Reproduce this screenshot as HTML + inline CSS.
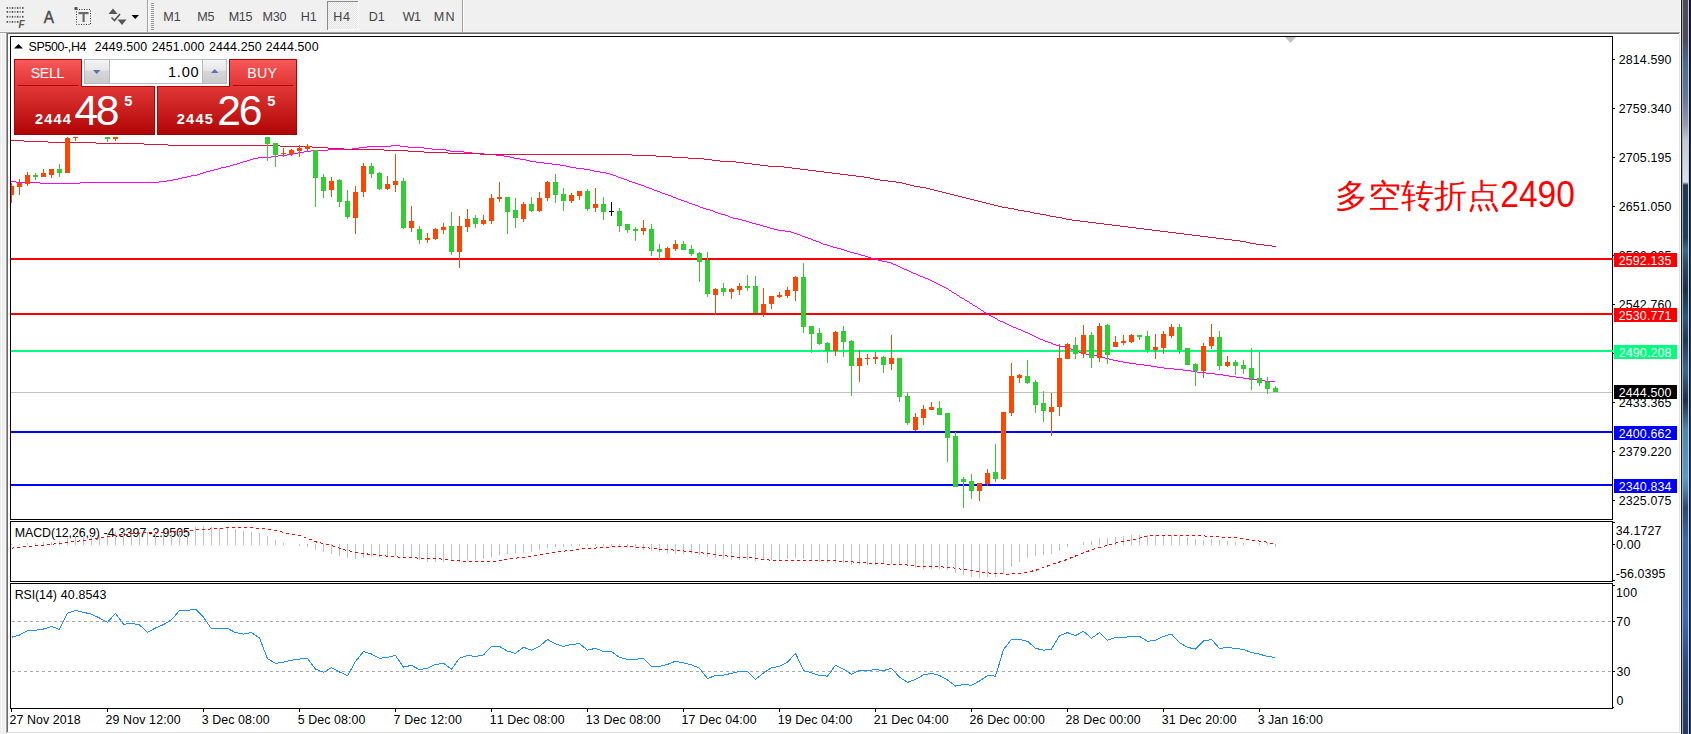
<!DOCTYPE html>
<html><head><meta charset="utf-8"><title>SP500 H4</title>
<style>
html,body{margin:0;padding:0;background:#F0F0F0;}
body{width:1691px;height:734px;overflow:hidden;position:relative;}
svg{position:absolute;left:0;top:0;display:block;}
svg text{font-family:"Liberation Sans", sans-serif;font-kerning:none;}
</style></head>
<body>
<svg width="1691" height="734" viewBox="0 0 1691 734">
<rect x="0" y="0" width="1691" height="734" fill="#F0F0F0"/>
<rect x="0" y="33" width="1" height="701" fill="#EBEBEB"/>
<rect x="1" y="33" width="1" height="701" fill="#F8F8F8"/>
<rect x="5" y="33" width="1" height="701" fill="#F5F5F5"/>
<rect x="0" y="32" width="1681" height="1" fill="#A0A0A0"/>
<rect x="0" y="31" width="1681" height="1" fill="#F6F6F6"/>
<rect x="0" y="33" width="6" height="1" fill="#FCFCFC"/>
<rect x="6" y="32" width="1" height="702" fill="#A0A0A0"/>
<rect x="7" y="33" width="1673" height="1" fill="#696969"/>
<rect x="7" y="33" width="1" height="700" fill="#696969"/>
<rect x="8" y="34" width="1671" height="698" fill="#FFFFFF"/>
<rect x="7" y="732" width="1673" height="1" fill="#E3E3E3"/>
<rect x="1679" y="33" width="1" height="700" fill="#E3E3E3"/>
<rect x="6" y="733" width="1675" height="1" fill="#FFFFFF"/>
<rect x="1680" y="0" width="1" height="734" fill="#FFFFFF"/>
<defs>
<linearGradient id="frameg" x1="0" y1="0" x2="0" y2="1">
<stop offset="0.0000" stop-color="#4e4a5a"/>
<stop offset="0.0545" stop-color="#4e4a5c"/>
<stop offset="0.0845" stop-color="#4a6a90"/>
<stop offset="0.1362" stop-color="#6a7a98"/>
<stop offset="0.1703" stop-color="#9a9aaa"/>
<stop offset="0.1907" stop-color="#c0c8d4"/>
<stop offset="0.2480" stop-color="#dce4ec"/>
<stop offset="0.2520" stop-color="#203a4c"/>
<stop offset="0.3243" stop-color="#22404f"/>
<stop offset="0.3406" stop-color="#3a6a88"/>
<stop offset="0.3610" stop-color="#2a4a60"/>
<stop offset="0.3951" stop-color="#1e3040"/>
<stop offset="0.4332" stop-color="#2a5a7a"/>
<stop offset="0.4632" stop-color="#1e3a50"/>
<stop offset="0.5041" stop-color="#3a6a8a"/>
<stop offset="0.5450" stop-color="#1e3040"/>
<stop offset="0.5858" stop-color="#4a8ab0"/>
<stop offset="0.6512" stop-color="#5a9ac8"/>
<stop offset="0.6676" stop-color="#4a80b0"/>
<stop offset="0.6921" stop-color="#2a4a70"/>
<stop offset="0.7357" stop-color="#3a6aa8"/>
<stop offset="0.8447" stop-color="#3a6ab0"/>
<stop offset="0.9060" stop-color="#2a4a80"/>
<stop offset="1.0000" stop-color="#2a3a60"/>
</linearGradient>
<linearGradient id="edgeg" x1="0" y1="0" x2="0" y2="1">
<stop offset="0" stop-color="#1a1830"/><stop offset="0.15" stop-color="#1a2a48"/><stop offset="0.3" stop-color="#174468"/><stop offset="1" stop-color="#174a70"/>
</linearGradient>
<linearGradient id="sellTab" x1="0" y1="0" x2="0" y2="1">
<stop offset="0" stop-color="#F85A5A"/><stop offset="1" stop-color="#E03434"/>
</linearGradient>
<linearGradient id="sellLow" x1="0" y1="0" x2="0" y2="1">
<stop offset="0" stop-color="#E23838"/><stop offset="1" stop-color="#B00404"/>
</linearGradient>
<linearGradient id="btnG" x1="0" y1="0" x2="0" y2="1">
<stop offset="0" stop-color="#F4F4F4"/><stop offset="0.45" stop-color="#E6E6E6"/><stop offset="0.5" stop-color="#D6D6D6"/><stop offset="1" stop-color="#CBCBCB"/>
</linearGradient>
<pattern id="dith" width="2" height="2" patternUnits="userSpaceOnUse">
<rect width="2" height="2" fill="#F7F7F7"/><rect width="1" height="1" fill="#E4E4E4"/><rect x="1" y="1" width="1" height="1" fill="#E4E4E4"/>
</pattern>
<clipPath id="mainclip"><rect x="11" y="37" width="1601" height="482"/></clipPath>
<clipPath id="macdclip"><rect x="11" y="522" width="1601" height="59"/></clipPath>
<clipPath id="rsiclip"><rect x="11" y="584" width="1601" height="124"/></clipPath>
</defs>
<rect x="1681" y="0" width="10" height="734" fill="url(#frameg)"/>
<rect x="1681" y="0" width="1" height="734" fill="#141824"/>
<rect x="1682" y="0" width="1" height="734" fill="#A8AEBC"/>
<rect x="1688" y="0" width="1" height="734" fill="#C8CCD8"/>
<rect x="1689" y="0" width="1" height="734" fill="#0A0E1A"/>
<rect x="1690" y="0" width="1" height="734" fill="url(#edgeg)"/>
<rect x="6.6" y="7.1" width="1.5" height="1.8" fill="#4e4e4e"/>
<rect x="9.17" y="7.1" width="1.5" height="1.8" fill="#8e8e8e"/>
<rect x="11.74" y="7.1" width="1.5" height="1.8" fill="#4e4e4e"/>
<rect x="14.31" y="7.1" width="1.5" height="1.8" fill="#8e8e8e"/>
<rect x="16.88" y="7.1" width="1.5" height="1.8" fill="#4e4e4e"/>
<rect x="19.45" y="7.1" width="1.5" height="1.8" fill="#8e8e8e"/>
<rect x="22.02" y="7.1" width="1.5" height="1.8" fill="#4e4e4e"/>
<rect x="6.6" y="11" width="1.5" height="1.8" fill="#4e4e4e"/>
<rect x="9.17" y="11" width="1.5" height="1.8" fill="#8e8e8e"/>
<rect x="11.74" y="11" width="1.5" height="1.8" fill="#4e4e4e"/>
<rect x="14.31" y="11" width="1.5" height="1.8" fill="#8e8e8e"/>
<rect x="16.88" y="11" width="1.5" height="1.8" fill="#4e4e4e"/>
<rect x="19.45" y="11" width="1.5" height="1.8" fill="#8e8e8e"/>
<rect x="22.02" y="11" width="1.5" height="1.8" fill="#4e4e4e"/>
<rect x="6.6" y="15.9" width="1.5" height="1.8" fill="#4e4e4e"/>
<rect x="9.17" y="15.9" width="1.5" height="1.8" fill="#8e8e8e"/>
<rect x="11.74" y="15.9" width="1.5" height="1.8" fill="#4e4e4e"/>
<rect x="14.31" y="15.9" width="1.5" height="1.8" fill="#8e8e8e"/>
<rect x="16.88" y="15.9" width="1.5" height="1.8" fill="#4e4e4e"/>
<rect x="19.45" y="15.9" width="1.5" height="1.8" fill="#8e8e8e"/>
<rect x="22.02" y="15.9" width="1.5" height="1.8" fill="#4e4e4e"/>
<rect x="6.6" y="21" width="1.5" height="1.8" fill="#4e4e4e"/>
<rect x="9.17" y="21" width="1.5" height="1.8" fill="#8e8e8e"/>
<rect x="11.74" y="21" width="1.5" height="1.8" fill="#4e4e4e"/>
<rect x="14.31" y="21" width="1.5" height="1.8" fill="#8e8e8e"/>
<rect x="16.88" y="21" width="1.5" height="1.8" fill="#4e4e4e"/>
<text x="18.4" y="28" font-size="10" font-weight="bold" font-style="italic" fill="#555" font-family='"Liberation Sans",sans-serif'>F</text>
<text x="0" y="0" font-size="16.5" fill="#4a4a4a" stroke="#4a4a4a" stroke-width="0.45" transform="translate(43.7,22.8) scale(0.93,1)">A</text>
<rect x="76.5" y="9.5" width="14" height="15" fill="none" stroke="#333" stroke-width="1" stroke-dasharray="1,1.5"/>
<rect x="74.5" y="7" width="3" height="3" fill="#555"/>
<rect x="78.5" y="12" width="10" height="2.2" fill="#6a6a6a"/>
<rect x="82.5" y="12" width="2.2" height="10" fill="#6a6a6a"/>
<path d="M108.5,14 L113,8.5 L117.5,14 Z" fill="#555"/>
<path d="M117.5,19.5 L126.5,19.5 L122,25 Z" fill="#555"/>
<path d="M111.5,17.5 L114.5,20.5 L120,14" fill="none" stroke="#555" stroke-width="1.6"/>
<path d="M131.5,15 L139,15 L135.25,19 Z" fill="#000"/>
<rect x="147" y="0" width="1" height="32" fill="#A0A0A0"/>
<rect x="148" y="0" width="1" height="32" fill="#FFFFFF"/>
<rect x="151" y="3" width="3" height="1" fill="#9a9a9a"/>
<rect x="151" y="5" width="3" height="1" fill="#9a9a9a"/>
<rect x="151" y="7" width="3" height="1" fill="#9a9a9a"/>
<rect x="151" y="9" width="3" height="1" fill="#9a9a9a"/>
<rect x="151" y="11" width="3" height="1" fill="#9a9a9a"/>
<rect x="151" y="13" width="3" height="1" fill="#9a9a9a"/>
<rect x="151" y="15" width="3" height="1" fill="#9a9a9a"/>
<rect x="151" y="17" width="3" height="1" fill="#9a9a9a"/>
<rect x="151" y="19" width="3" height="1" fill="#9a9a9a"/>
<rect x="151" y="21" width="3" height="1" fill="#9a9a9a"/>
<rect x="151" y="23" width="3" height="1" fill="#9a9a9a"/>
<rect x="151" y="25" width="3" height="1" fill="#9a9a9a"/>
<rect x="151" y="27" width="3" height="1" fill="#9a9a9a"/>
<rect x="151" y="29" width="3" height="1" fill="#9a9a9a"/>
<rect x="327" y="1" width="32" height="29" fill="url(#dith)"/>
<rect x="327" y="1" width="31" height="1" fill="#8A8A8A"/>
<rect x="327" y="1" width="1" height="29" fill="#8A8A8A"/>
<rect x="328" y="29" width="31" height="1" fill="#FFFFFF"/>
<rect x="358" y="1" width="1" height="29" fill="#FFFFFF"/>
<text x="163.17" y="21.4" font-size="12.6" fill="#444" letter-spacing="0.045">M1</text>
<text x="197.17" y="21.4" font-size="12.6" fill="#444" letter-spacing="-0.041">M5</text>
<text x="228.67" y="21.4" font-size="12.6" fill="#444" letter-spacing="-0.324">M15</text>
<text x="262.47" y="21.4" font-size="12.6" fill="#444" letter-spacing="-0.243">M30</text>
<text x="300.67" y="21.4" font-size="12.6" fill="#444" letter-spacing="-0.058">H1</text>
<text x="333.17" y="21.4" font-size="12.6" fill="#444" letter-spacing="0.696">H4</text>
<text x="368.87" y="21.4" font-size="12.6" fill="#444" letter-spacing="-0.158">D1</text>
<text x="402.84" y="21.4" font-size="12.6" fill="#444" letter-spacing="-0.629">W1</text>
<text x="433.77" y="21.4" font-size="12.6" fill="#444" letter-spacing="1.166">MN</text>
<rect x="462" y="0" width="1" height="32" fill="#A0A0A0"/>
<rect x="463" y="0" width="1" height="32" fill="#FFFFFF"/>
<rect x="10" y="36" width="1603" height="1" fill="#000"/>
<rect x="10" y="519" width="1603" height="1" fill="#000"/>
<rect x="10" y="36" width="1" height="484" fill="#000"/>
<rect x="1612" y="36" width="1" height="484" fill="#000"/>
<rect x="10" y="521" width="1603" height="1" fill="#000"/>
<rect x="10" y="581" width="1603" height="1" fill="#000"/>
<rect x="10" y="521" width="1" height="61" fill="#000"/>
<rect x="1612" y="521" width="1" height="61" fill="#000"/>
<rect x="10" y="583" width="1603" height="1" fill="#000"/>
<rect x="10" y="708" width="1603" height="1" fill="#000"/>
<rect x="10" y="583" width="1" height="126" fill="#000"/>
<rect x="1612" y="583" width="1" height="126" fill="#000"/>
<g clip-path="url(#mainclip)" shape-rendering="crispEdges">
<rect x="11" y="392" width="1601" height="1" fill="#C0C0C0"/>
<rect x="11" y="258" width="1602" height="2" fill="#FF0000"/>
<rect x="11" y="313" width="1602" height="2" fill="#FF0000"/>
<rect x="11" y="350" width="1602" height="2" fill="#00FF7F"/>
<rect x="11" y="431" width="1602" height="2" fill="#0000FF"/>
<rect x="11" y="484" width="1602" height="2" fill="#0000FF"/>
<rect x="11" y="181" width="5" height="1" fill="#FF00FF"/>
<rect x="16" y="182" width="24" height="1" fill="#FF00FF"/>
<rect x="40" y="183" width="40" height="1" fill="#FF00FF"/>
<rect x="80" y="182" width="79" height="1" fill="#FF00FF"/>
<rect x="159" y="181" width="8" height="1" fill="#FF00FF"/>
<rect x="167" y="180" width="6" height="1" fill="#FF00FF"/>
<rect x="173" y="179" width="5" height="1" fill="#FF00FF"/>
<rect x="178" y="178" width="4" height="1" fill="#FF00FF"/>
<rect x="182" y="177" width="5" height="1" fill="#FF00FF"/>
<rect x="187" y="176" width="4" height="1" fill="#FF00FF"/>
<rect x="191" y="175" width="6" height="1" fill="#FF00FF"/>
<rect x="197" y="174" width="3" height="1" fill="#FF00FF"/>
<rect x="200" y="173" width="3" height="1" fill="#FF00FF"/>
<rect x="203" y="172" width="3" height="1" fill="#FF00FF"/>
<rect x="206" y="171" width="4" height="1" fill="#FF00FF"/>
<rect x="210" y="170" width="4" height="1" fill="#FF00FF"/>
<rect x="214" y="169" width="4" height="1" fill="#FF00FF"/>
<rect x="218" y="168" width="3" height="1" fill="#FF00FF"/>
<rect x="221" y="167" width="5" height="1" fill="#FF00FF"/>
<rect x="226" y="166" width="4" height="1" fill="#FF00FF"/>
<rect x="230" y="165" width="3" height="1" fill="#FF00FF"/>
<rect x="233" y="164" width="4" height="1" fill="#FF00FF"/>
<rect x="237" y="163" width="3" height="1" fill="#FF00FF"/>
<rect x="240" y="162" width="3" height="1" fill="#FF00FF"/>
<rect x="243" y="161" width="4" height="1" fill="#FF00FF"/>
<rect x="247" y="160" width="3" height="1" fill="#FF00FF"/>
<rect x="250" y="159" width="3" height="1" fill="#FF00FF"/>
<rect x="253" y="158" width="5" height="1" fill="#FF00FF"/>
<rect x="258" y="157" width="13" height="1" fill="#FF00FF"/>
<rect x="271" y="156" width="7" height="1" fill="#FF00FF"/>
<rect x="278" y="155" width="9" height="1" fill="#FF00FF"/>
<rect x="287" y="154" width="6" height="1" fill="#FF00FF"/>
<rect x="293" y="153" width="5" height="1" fill="#FF00FF"/>
<rect x="298" y="152" width="6" height="1" fill="#FF00FF"/>
<rect x="304" y="151" width="7" height="1" fill="#FF00FF"/>
<rect x="311" y="150" width="17" height="1" fill="#FF00FF"/>
<rect x="328" y="149" width="24" height="1" fill="#FF00FF"/>
<rect x="352" y="148" width="7" height="1" fill="#FF00FF"/>
<rect x="359" y="147" width="8" height="1" fill="#FF00FF"/>
<rect x="367" y="146" width="24" height="1" fill="#FF00FF"/>
<rect x="391" y="145" width="9" height="1" fill="#FF00FF"/>
<rect x="400" y="146" width="8" height="1" fill="#FF00FF"/>
<rect x="408" y="147" width="16" height="1" fill="#FF00FF"/>
<rect x="424" y="148" width="8" height="1" fill="#FF00FF"/>
<rect x="432" y="149" width="14" height="1" fill="#FF00FF"/>
<rect x="446" y="150" width="4" height="1" fill="#FF00FF"/>
<rect x="450" y="151" width="14" height="1" fill="#FF00FF"/>
<rect x="464" y="152" width="8" height="1" fill="#FF00FF"/>
<rect x="472" y="153" width="12" height="1" fill="#FF00FF"/>
<rect x="484" y="154" width="12" height="1" fill="#FF00FF"/>
<rect x="496" y="155" width="8" height="1" fill="#FF00FF"/>
<rect x="504" y="156" width="6" height="1" fill="#FF00FF"/>
<rect x="510" y="157" width="4" height="1" fill="#FF00FF"/>
<rect x="514" y="158" width="6" height="1" fill="#FF00FF"/>
<rect x="520" y="159" width="6" height="1" fill="#FF00FF"/>
<rect x="526" y="160" width="4" height="1" fill="#FF00FF"/>
<rect x="530" y="161" width="6" height="1" fill="#FF00FF"/>
<rect x="536" y="162" width="8" height="1" fill="#FF00FF"/>
<rect x="544" y="163" width="8" height="1" fill="#FF00FF"/>
<rect x="552" y="164" width="8" height="1" fill="#FF00FF"/>
<rect x="560" y="165" width="6" height="1" fill="#FF00FF"/>
<rect x="566" y="166" width="4" height="1" fill="#FF00FF"/>
<rect x="570" y="167" width="6" height="1" fill="#FF00FF"/>
<rect x="576" y="168" width="8" height="1" fill="#FF00FF"/>
<rect x="584" y="169" width="6" height="1" fill="#FF00FF"/>
<rect x="590" y="170" width="4" height="1" fill="#FF00FF"/>
<rect x="594" y="171" width="6" height="1" fill="#FF00FF"/>
<rect x="600" y="172" width="6" height="1" fill="#FF00FF"/>
<rect x="606" y="173" width="4" height="1" fill="#FF00FF"/>
<rect x="610" y="174" width="3" height="1" fill="#FF00FF"/>
<rect x="613" y="175" width="3" height="1" fill="#FF00FF"/>
<rect x="616" y="176" width="2" height="1" fill="#FF00FF"/>
<rect x="618" y="177" width="3" height="1" fill="#FF00FF"/>
<rect x="621" y="178" width="3" height="1" fill="#FF00FF"/>
<rect x="624" y="179" width="3" height="1" fill="#FF00FF"/>
<rect x="627" y="180" width="2" height="1" fill="#FF00FF"/>
<rect x="629" y="181" width="3" height="1" fill="#FF00FF"/>
<rect x="632" y="182" width="3" height="1" fill="#FF00FF"/>
<rect x="635" y="183" width="3" height="1" fill="#FF00FF"/>
<rect x="638" y="184" width="3" height="1" fill="#FF00FF"/>
<rect x="641" y="185" width="3" height="1" fill="#FF00FF"/>
<rect x="644" y="186" width="2" height="1" fill="#FF00FF"/>
<rect x="646" y="187" width="3" height="1" fill="#FF00FF"/>
<rect x="649" y="188" width="3" height="1" fill="#FF00FF"/>
<rect x="652" y="189" width="2" height="1" fill="#FF00FF"/>
<rect x="654" y="190" width="3" height="1" fill="#FF00FF"/>
<rect x="657" y="191" width="3" height="1" fill="#FF00FF"/>
<rect x="660" y="192" width="2" height="1" fill="#FF00FF"/>
<rect x="662" y="193" width="3" height="1" fill="#FF00FF"/>
<rect x="665" y="194" width="3" height="1" fill="#FF00FF"/>
<rect x="668" y="195" width="3" height="1" fill="#FF00FF"/>
<rect x="671" y="196" width="2" height="1" fill="#FF00FF"/>
<rect x="673" y="197" width="3" height="1" fill="#FF00FF"/>
<rect x="676" y="198" width="2" height="1" fill="#FF00FF"/>
<rect x="678" y="199" width="3" height="1" fill="#FF00FF"/>
<rect x="681" y="200" width="3" height="1" fill="#FF00FF"/>
<rect x="684" y="201" width="3" height="1" fill="#FF00FF"/>
<rect x="687" y="202" width="2" height="1" fill="#FF00FF"/>
<rect x="689" y="203" width="3" height="1" fill="#FF00FF"/>
<rect x="692" y="204" width="3" height="1" fill="#FF00FF"/>
<rect x="695" y="205" width="3" height="1" fill="#FF00FF"/>
<rect x="698" y="206" width="2" height="1" fill="#FF00FF"/>
<rect x="700" y="207" width="3" height="1" fill="#FF00FF"/>
<rect x="703" y="208" width="3" height="1" fill="#FF00FF"/>
<rect x="706" y="209" width="4" height="1" fill="#FF00FF"/>
<rect x="710" y="210" width="3" height="1" fill="#FF00FF"/>
<rect x="713" y="211" width="2" height="1" fill="#FF00FF"/>
<rect x="715" y="212" width="3" height="1" fill="#FF00FF"/>
<rect x="718" y="213" width="3" height="1" fill="#FF00FF"/>
<rect x="721" y="214" width="4" height="1" fill="#FF00FF"/>
<rect x="725" y="215" width="3" height="1" fill="#FF00FF"/>
<rect x="728" y="216" width="2" height="1" fill="#FF00FF"/>
<rect x="730" y="217" width="3" height="1" fill="#FF00FF"/>
<rect x="733" y="218" width="5" height="1" fill="#FF00FF"/>
<rect x="738" y="219" width="4" height="1" fill="#FF00FF"/>
<rect x="742" y="220" width="4" height="1" fill="#FF00FF"/>
<rect x="746" y="221" width="3" height="1" fill="#FF00FF"/>
<rect x="749" y="222" width="3" height="1" fill="#FF00FF"/>
<rect x="752" y="223" width="4" height="1" fill="#FF00FF"/>
<rect x="756" y="224" width="4" height="1" fill="#FF00FF"/>
<rect x="760" y="225" width="3" height="1" fill="#FF00FF"/>
<rect x="763" y="226" width="4" height="1" fill="#FF00FF"/>
<rect x="767" y="227" width="3" height="1" fill="#FF00FF"/>
<rect x="770" y="228" width="4" height="1" fill="#FF00FF"/>
<rect x="774" y="229" width="4" height="1" fill="#FF00FF"/>
<rect x="778" y="230" width="7" height="1" fill="#FF00FF"/>
<rect x="785" y="231" width="6" height="1" fill="#FF00FF"/>
<rect x="791" y="232" width="3" height="1" fill="#FF00FF"/>
<rect x="794" y="233" width="3" height="1" fill="#FF00FF"/>
<rect x="797" y="234" width="3" height="1" fill="#FF00FF"/>
<rect x="800" y="235" width="2" height="1" fill="#FF00FF"/>
<rect x="802" y="236" width="3" height="1" fill="#FF00FF"/>
<rect x="805" y="237" width="3" height="1" fill="#FF00FF"/>
<rect x="808" y="238" width="3" height="1" fill="#FF00FF"/>
<rect x="811" y="239" width="2" height="1" fill="#FF00FF"/>
<rect x="813" y="240" width="3" height="1" fill="#FF00FF"/>
<rect x="816" y="241" width="3" height="1" fill="#FF00FF"/>
<rect x="819" y="242" width="2" height="1" fill="#FF00FF"/>
<rect x="821" y="243" width="2" height="1" fill="#FF00FF"/>
<rect x="823" y="244" width="4" height="1" fill="#FF00FF"/>
<rect x="827" y="245" width="3" height="1" fill="#FF00FF"/>
<rect x="830" y="246" width="3" height="1" fill="#FF00FF"/>
<rect x="833" y="247" width="4" height="1" fill="#FF00FF"/>
<rect x="837" y="248" width="4" height="1" fill="#FF00FF"/>
<rect x="841" y="249" width="3" height="1" fill="#FF00FF"/>
<rect x="844" y="250" width="3" height="1" fill="#FF00FF"/>
<rect x="847" y="251" width="3" height="1" fill="#FF00FF"/>
<rect x="850" y="252" width="4" height="1" fill="#FF00FF"/>
<rect x="854" y="253" width="4" height="1" fill="#FF00FF"/>
<rect x="858" y="254" width="3" height="1" fill="#FF00FF"/>
<rect x="861" y="255" width="4" height="1" fill="#FF00FF"/>
<rect x="865" y="256" width="3" height="1" fill="#FF00FF"/>
<rect x="868" y="257" width="3" height="1" fill="#FF00FF"/>
<rect x="871" y="258" width="4" height="1" fill="#FF00FF"/>
<rect x="875" y="259" width="3" height="1" fill="#FF00FF"/>
<rect x="878" y="260" width="4" height="1" fill="#FF00FF"/>
<rect x="882" y="261" width="5" height="1" fill="#FF00FF"/>
<rect x="887" y="262" width="4" height="1" fill="#FF00FF"/>
<rect x="891" y="263" width="2" height="1" fill="#FF00FF"/>
<rect x="893" y="264" width="3" height="1" fill="#FF00FF"/>
<rect x="896" y="265" width="2" height="1" fill="#FF00FF"/>
<rect x="898" y="266" width="2" height="1" fill="#FF00FF"/>
<rect x="900" y="267" width="2" height="1" fill="#FF00FF"/>
<rect x="902" y="268" width="2" height="1" fill="#FF00FF"/>
<rect x="904" y="269" width="3" height="1" fill="#FF00FF"/>
<rect x="907" y="270" width="2" height="1" fill="#FF00FF"/>
<rect x="909" y="271" width="2" height="1" fill="#FF00FF"/>
<rect x="911" y="272" width="2" height="1" fill="#FF00FF"/>
<rect x="913" y="273" width="3" height="1" fill="#FF00FF"/>
<rect x="916" y="274" width="2" height="1" fill="#FF00FF"/>
<rect x="918" y="275" width="2" height="1" fill="#FF00FF"/>
<rect x="920" y="276" width="3" height="1" fill="#FF00FF"/>
<rect x="923" y="277" width="2" height="1" fill="#FF00FF"/>
<rect x="925" y="278" width="3" height="1" fill="#FF00FF"/>
<rect x="928" y="279" width="2" height="1" fill="#FF00FF"/>
<rect x="930" y="280" width="2" height="1" fill="#FF00FF"/>
<rect x="932" y="281" width="2" height="1" fill="#FF00FF"/>
<rect x="934" y="282" width="2" height="1" fill="#FF00FF"/>
<rect x="936" y="283" width="2" height="1" fill="#FF00FF"/>
<rect x="938" y="284" width="2" height="1" fill="#FF00FF"/>
<rect x="940" y="285" width="2" height="1" fill="#FF00FF"/>
<rect x="942" y="286" width="2" height="1" fill="#FF00FF"/>
<rect x="944" y="287" width="2" height="1" fill="#FF00FF"/>
<rect x="946" y="288" width="2" height="1" fill="#FF00FF"/>
<rect x="948" y="289" width="1" height="1" fill="#FF00FF"/>
<rect x="949" y="290" width="2" height="1" fill="#FF00FF"/>
<rect x="951" y="291" width="1" height="1" fill="#FF00FF"/>
<rect x="952" y="292" width="2" height="1" fill="#FF00FF"/>
<rect x="954" y="293" width="2" height="1" fill="#FF00FF"/>
<rect x="956" y="294" width="1" height="1" fill="#FF00FF"/>
<rect x="957" y="295" width="2" height="1" fill="#FF00FF"/>
<rect x="959" y="296" width="1" height="1" fill="#FF00FF"/>
<rect x="960" y="297" width="2" height="1" fill="#FF00FF"/>
<rect x="962" y="298" width="2" height="1" fill="#FF00FF"/>
<rect x="964" y="299" width="1" height="1" fill="#FF00FF"/>
<rect x="965" y="300" width="2" height="1" fill="#FF00FF"/>
<rect x="967" y="301" width="2" height="1" fill="#FF00FF"/>
<rect x="969" y="302" width="1" height="1" fill="#FF00FF"/>
<rect x="970" y="303" width="2" height="1" fill="#FF00FF"/>
<rect x="972" y="304" width="1" height="1" fill="#FF00FF"/>
<rect x="973" y="305" width="2" height="1" fill="#FF00FF"/>
<rect x="975" y="306" width="2" height="1" fill="#FF00FF"/>
<rect x="977" y="307" width="1" height="1" fill="#FF00FF"/>
<rect x="978" y="308" width="2" height="1" fill="#FF00FF"/>
<rect x="980" y="309" width="1" height="1" fill="#FF00FF"/>
<rect x="981" y="310" width="2" height="1" fill="#FF00FF"/>
<rect x="983" y="311" width="1" height="1" fill="#FF00FF"/>
<rect x="984" y="312" width="2" height="1" fill="#FF00FF"/>
<rect x="986" y="313" width="1" height="1" fill="#FF00FF"/>
<rect x="987" y="314" width="2" height="1" fill="#FF00FF"/>
<rect x="989" y="315" width="2" height="1" fill="#FF00FF"/>
<rect x="991" y="316" width="2" height="1" fill="#FF00FF"/>
<rect x="993" y="317" width="2" height="1" fill="#FF00FF"/>
<rect x="995" y="318" width="2" height="1" fill="#FF00FF"/>
<rect x="997" y="319" width="1" height="1" fill="#FF00FF"/>
<rect x="998" y="320" width="2" height="1" fill="#FF00FF"/>
<rect x="1000" y="321" width="3" height="1" fill="#FF00FF"/>
<rect x="1003" y="322" width="2" height="1" fill="#FF00FF"/>
<rect x="1005" y="323" width="2" height="1" fill="#FF00FF"/>
<rect x="1007" y="324" width="2" height="1" fill="#FF00FF"/>
<rect x="1009" y="325" width="2" height="1" fill="#FF00FF"/>
<rect x="1011" y="326" width="2" height="1" fill="#FF00FF"/>
<rect x="1013" y="327" width="3" height="1" fill="#FF00FF"/>
<rect x="1016" y="328" width="2" height="1" fill="#FF00FF"/>
<rect x="1018" y="329" width="3" height="1" fill="#FF00FF"/>
<rect x="1021" y="330" width="2" height="1" fill="#FF00FF"/>
<rect x="1023" y="331" width="2" height="1" fill="#FF00FF"/>
<rect x="1025" y="332" width="3" height="1" fill="#FF00FF"/>
<rect x="1028" y="333" width="2" height="1" fill="#FF00FF"/>
<rect x="1030" y="334" width="2" height="1" fill="#FF00FF"/>
<rect x="1032" y="335" width="2" height="1" fill="#FF00FF"/>
<rect x="1034" y="336" width="2" height="1" fill="#FF00FF"/>
<rect x="1036" y="337" width="2" height="1" fill="#FF00FF"/>
<rect x="1038" y="338" width="2" height="1" fill="#FF00FF"/>
<rect x="1040" y="339" width="3" height="1" fill="#FF00FF"/>
<rect x="1043" y="340" width="2" height="1" fill="#FF00FF"/>
<rect x="1045" y="341" width="3" height="1" fill="#FF00FF"/>
<rect x="1048" y="342" width="3" height="1" fill="#FF00FF"/>
<rect x="1051" y="343" width="2" height="1" fill="#FF00FF"/>
<rect x="1053" y="344" width="3" height="1" fill="#FF00FF"/>
<rect x="1056" y="345" width="3" height="1" fill="#FF00FF"/>
<rect x="1059" y="346" width="6" height="1" fill="#FF00FF"/>
<rect x="1065" y="347" width="4" height="1" fill="#FF00FF"/>
<rect x="1069" y="348" width="2" height="1" fill="#FF00FF"/>
<rect x="1071" y="349" width="3" height="1" fill="#FF00FF"/>
<rect x="1074" y="350" width="2" height="1" fill="#FF00FF"/>
<rect x="1076" y="351" width="3" height="1" fill="#FF00FF"/>
<rect x="1079" y="352" width="3" height="1" fill="#FF00FF"/>
<rect x="1082" y="353" width="4" height="1" fill="#FF00FF"/>
<rect x="1086" y="354" width="5" height="1" fill="#FF00FF"/>
<rect x="1091" y="355" width="6" height="1" fill="#FF00FF"/>
<rect x="1097" y="356" width="4" height="1" fill="#FF00FF"/>
<rect x="1101" y="357" width="4" height="1" fill="#FF00FF"/>
<rect x="1105" y="358" width="4" height="1" fill="#FF00FF"/>
<rect x="1109" y="359" width="4" height="1" fill="#FF00FF"/>
<rect x="1113" y="360" width="5" height="1" fill="#FF00FF"/>
<rect x="1118" y="361" width="5" height="1" fill="#FF00FF"/>
<rect x="1123" y="362" width="6" height="1" fill="#FF00FF"/>
<rect x="1129" y="363" width="7" height="1" fill="#FF00FF"/>
<rect x="1136" y="364" width="8" height="1" fill="#FF00FF"/>
<rect x="1144" y="365" width="7" height="1" fill="#FF00FF"/>
<rect x="1151" y="366" width="6" height="1" fill="#FF00FF"/>
<rect x="1157" y="367" width="7" height="1" fill="#FF00FF"/>
<rect x="1164" y="368" width="10" height="1" fill="#FF00FF"/>
<rect x="1174" y="369" width="9" height="1" fill="#FF00FF"/>
<rect x="1183" y="370" width="8" height="1" fill="#FF00FF"/>
<rect x="1191" y="371" width="6" height="1" fill="#FF00FF"/>
<rect x="1197" y="372" width="9" height="1" fill="#FF00FF"/>
<rect x="1206" y="373" width="9" height="1" fill="#FF00FF"/>
<rect x="1215" y="374" width="8" height="1" fill="#FF00FF"/>
<rect x="1223" y="375" width="6" height="1" fill="#FF00FF"/>
<rect x="1229" y="376" width="7" height="1" fill="#FF00FF"/>
<rect x="1236" y="377" width="7" height="1" fill="#FF00FF"/>
<rect x="1243" y="378" width="6" height="1" fill="#FF00FF"/>
<rect x="1249" y="379" width="8" height="1" fill="#FF00FF"/>
<rect x="1257" y="380" width="8" height="1" fill="#FF00FF"/>
<rect x="1265" y="381" width="10" height="1" fill="#FF00FF"/>
<rect x="11" y="140" width="13" height="1" fill="#DC143C"/>
<rect x="24" y="141" width="24" height="1" fill="#DC143C"/>
<rect x="48" y="142" width="48" height="1" fill="#DC143C"/>
<rect x="96" y="143" width="48" height="1" fill="#DC143C"/>
<rect x="144" y="144" width="24" height="1" fill="#DC143C"/>
<rect x="168" y="145" width="112" height="1" fill="#DC143C"/>
<rect x="280" y="146" width="32" height="1" fill="#DC143C"/>
<rect x="312" y="147" width="16" height="1" fill="#DC143C"/>
<rect x="328" y="148" width="16" height="1" fill="#DC143C"/>
<rect x="344" y="149" width="40" height="1" fill="#DC143C"/>
<rect x="384" y="150" width="24" height="1" fill="#DC143C"/>
<rect x="408" y="151" width="16" height="1" fill="#DC143C"/>
<rect x="424" y="152" width="24" height="1" fill="#DC143C"/>
<rect x="448" y="153" width="32" height="1" fill="#DC143C"/>
<rect x="480" y="154" width="152" height="1" fill="#DC143C"/>
<rect x="632" y="155" width="24" height="1" fill="#DC143C"/>
<rect x="656" y="156" width="16" height="1" fill="#DC143C"/>
<rect x="672" y="157" width="16" height="1" fill="#DC143C"/>
<rect x="688" y="158" width="16" height="1" fill="#DC143C"/>
<rect x="704" y="159" width="8" height="1" fill="#DC143C"/>
<rect x="712" y="160" width="8" height="1" fill="#DC143C"/>
<rect x="720" y="161" width="16" height="1" fill="#DC143C"/>
<rect x="736" y="162" width="8" height="1" fill="#DC143C"/>
<rect x="744" y="163" width="8" height="1" fill="#DC143C"/>
<rect x="752" y="164" width="8" height="1" fill="#DC143C"/>
<rect x="760" y="165" width="8" height="1" fill="#DC143C"/>
<rect x="768" y="166" width="16" height="1" fill="#DC143C"/>
<rect x="784" y="167" width="8" height="1" fill="#DC143C"/>
<rect x="792" y="168" width="8" height="1" fill="#DC143C"/>
<rect x="800" y="169" width="8" height="1" fill="#DC143C"/>
<rect x="808" y="170" width="8" height="1" fill="#DC143C"/>
<rect x="816" y="171" width="8" height="1" fill="#DC143C"/>
<rect x="824" y="172" width="8" height="1" fill="#DC143C"/>
<rect x="832" y="173" width="8" height="1" fill="#DC143C"/>
<rect x="840" y="174" width="8" height="1" fill="#DC143C"/>
<rect x="848" y="175" width="8" height="1" fill="#DC143C"/>
<rect x="856" y="176" width="8" height="1" fill="#DC143C"/>
<rect x="864" y="177" width="6" height="1" fill="#DC143C"/>
<rect x="870" y="178" width="4" height="1" fill="#DC143C"/>
<rect x="874" y="179" width="6" height="1" fill="#DC143C"/>
<rect x="880" y="180" width="8" height="1" fill="#DC143C"/>
<rect x="888" y="181" width="8" height="1" fill="#DC143C"/>
<rect x="896" y="182" width="6" height="1" fill="#DC143C"/>
<rect x="902" y="183" width="4" height="1" fill="#DC143C"/>
<rect x="906" y="184" width="4" height="1" fill="#DC143C"/>
<rect x="910" y="185" width="4" height="1" fill="#DC143C"/>
<rect x="914" y="186" width="6" height="1" fill="#DC143C"/>
<rect x="920" y="187" width="6" height="1" fill="#DC143C"/>
<rect x="926" y="188" width="4" height="1" fill="#DC143C"/>
<rect x="930" y="189" width="4" height="1" fill="#DC143C"/>
<rect x="934" y="190" width="4" height="1" fill="#DC143C"/>
<rect x="938" y="191" width="4" height="1" fill="#DC143C"/>
<rect x="942" y="192" width="4" height="1" fill="#DC143C"/>
<rect x="946" y="193" width="4" height="1" fill="#DC143C"/>
<rect x="950" y="194" width="4" height="1" fill="#DC143C"/>
<rect x="954" y="195" width="4" height="1" fill="#DC143C"/>
<rect x="958" y="196" width="4" height="1" fill="#DC143C"/>
<rect x="962" y="197" width="4" height="1" fill="#DC143C"/>
<rect x="966" y="198" width="4" height="1" fill="#DC143C"/>
<rect x="970" y="199" width="4" height="1" fill="#DC143C"/>
<rect x="974" y="200" width="4" height="1" fill="#DC143C"/>
<rect x="978" y="201" width="4" height="1" fill="#DC143C"/>
<rect x="982" y="202" width="4" height="1" fill="#DC143C"/>
<rect x="986" y="203" width="4" height="1" fill="#DC143C"/>
<rect x="990" y="204" width="4" height="1" fill="#DC143C"/>
<rect x="994" y="205" width="4" height="1" fill="#DC143C"/>
<rect x="998" y="206" width="4" height="1" fill="#DC143C"/>
<rect x="1002" y="207" width="6" height="1" fill="#DC143C"/>
<rect x="1008" y="208" width="6" height="1" fill="#DC143C"/>
<rect x="1014" y="209" width="4" height="1" fill="#DC143C"/>
<rect x="1018" y="210" width="6" height="1" fill="#DC143C"/>
<rect x="1024" y="211" width="6" height="1" fill="#DC143C"/>
<rect x="1030" y="212" width="4" height="1" fill="#DC143C"/>
<rect x="1034" y="213" width="6" height="1" fill="#DC143C"/>
<rect x="1040" y="214" width="6" height="1" fill="#DC143C"/>
<rect x="1046" y="215" width="4" height="1" fill="#DC143C"/>
<rect x="1050" y="216" width="6" height="1" fill="#DC143C"/>
<rect x="1056" y="217" width="6" height="1" fill="#DC143C"/>
<rect x="1062" y="218" width="4" height="1" fill="#DC143C"/>
<rect x="1066" y="219" width="6" height="1" fill="#DC143C"/>
<rect x="1072" y="220" width="8" height="1" fill="#DC143C"/>
<rect x="1080" y="221" width="8" height="1" fill="#DC143C"/>
<rect x="1088" y="222" width="8" height="1" fill="#DC143C"/>
<rect x="1096" y="223" width="8" height="1" fill="#DC143C"/>
<rect x="1104" y="224" width="8" height="1" fill="#DC143C"/>
<rect x="1112" y="225" width="8" height="1" fill="#DC143C"/>
<rect x="1120" y="226" width="8" height="1" fill="#DC143C"/>
<rect x="1128" y="227" width="8" height="1" fill="#DC143C"/>
<rect x="1136" y="228" width="8" height="1" fill="#DC143C"/>
<rect x="1144" y="229" width="8" height="1" fill="#DC143C"/>
<rect x="1152" y="230" width="8" height="1" fill="#DC143C"/>
<rect x="1160" y="231" width="8" height="1" fill="#DC143C"/>
<rect x="1168" y="232" width="8" height="1" fill="#DC143C"/>
<rect x="1176" y="233" width="8" height="1" fill="#DC143C"/>
<rect x="1184" y="234" width="8" height="1" fill="#DC143C"/>
<rect x="1192" y="235" width="8" height="1" fill="#DC143C"/>
<rect x="1200" y="236" width="8" height="1" fill="#DC143C"/>
<rect x="1208" y="237" width="8" height="1" fill="#DC143C"/>
<rect x="1216" y="238" width="8" height="1" fill="#DC143C"/>
<rect x="1224" y="239" width="8" height="1" fill="#DC143C"/>
<rect x="1232" y="240" width="8" height="1" fill="#DC143C"/>
<rect x="1240" y="241" width="6" height="1" fill="#DC143C"/>
<rect x="1246" y="242" width="4" height="1" fill="#DC143C"/>
<rect x="1250" y="243" width="6" height="1" fill="#DC143C"/>
<rect x="1256" y="244" width="8" height="1" fill="#DC143C"/>
<rect x="1264" y="245" width="8" height="1" fill="#DC143C"/>
<rect x="1272" y="246" width="4" height="1" fill="#DC143C"/>
<rect x="11" y="183" width="1" height="20" fill="#FF4500"/>
<rect x="9" y="186" width="5" height="9" fill="#FF4500"/>
<rect x="19" y="179" width="1" height="16" fill="#FF4500"/>
<rect x="17" y="183" width="5" height="4" fill="#FF4500"/>
<rect x="27" y="172" width="1" height="14" fill="#FF4500"/>
<rect x="25" y="175" width="5" height="9" fill="#FF4500"/>
<rect x="35" y="173" width="1" height="7" fill="#32CD32"/>
<rect x="33" y="175" width="5" height="2" fill="#32CD32"/>
<rect x="43" y="169" width="1" height="8" fill="#FF4500"/>
<rect x="41" y="173" width="5" height="4" fill="#FF4500"/>
<rect x="51" y="169" width="1" height="9" fill="#FF4500"/>
<rect x="49" y="169" width="5" height="6" fill="#FF4500"/>
<rect x="59" y="164" width="1" height="13" fill="#32CD32"/>
<rect x="57" y="169" width="5" height="4" fill="#32CD32"/>
<rect x="67" y="137" width="1" height="36" fill="#FF4500"/>
<rect x="65" y="138" width="5" height="35" fill="#FF4500"/>
<rect x="75" y="128" width="1" height="13" fill="#FF4500"/>
<rect x="73" y="128" width="5" height="10" fill="#FF4500"/>
<rect x="107" y="128" width="1" height="14" fill="#32CD32"/>
<rect x="105" y="128" width="5" height="11" fill="#32CD32"/>
<rect x="115" y="128" width="1" height="13" fill="#FF4500"/>
<rect x="113" y="128" width="5" height="11" fill="#FF4500"/>
<rect x="267" y="137" width="1" height="24" fill="#32CD32"/>
<rect x="265" y="137" width="5" height="7" fill="#32CD32"/>
<rect x="275" y="143" width="1" height="24" fill="#32CD32"/>
<rect x="273" y="143" width="5" height="12" fill="#32CD32"/>
<rect x="283" y="148" width="1" height="9" fill="#FF4500"/>
<rect x="281" y="153" width="5" height="1" fill="#FF4500"/>
<rect x="291" y="149" width="1" height="7" fill="#FF4500"/>
<rect x="289" y="150" width="5" height="4" fill="#FF4500"/>
<rect x="299" y="145" width="1" height="12" fill="#FF4500"/>
<rect x="297" y="148" width="5" height="3" fill="#FF4500"/>
<rect x="307" y="144" width="1" height="7" fill="#FF4500"/>
<rect x="305" y="146" width="5" height="3" fill="#FF4500"/>
<rect x="315" y="150" width="1" height="57" fill="#32CD32"/>
<rect x="313" y="150" width="5" height="28" fill="#32CD32"/>
<rect x="323" y="174" width="1" height="24" fill="#32CD32"/>
<rect x="321" y="177" width="5" height="14" fill="#32CD32"/>
<rect x="331" y="177" width="1" height="20" fill="#FF4500"/>
<rect x="329" y="181" width="5" height="9" fill="#FF4500"/>
<rect x="339" y="179" width="1" height="28" fill="#32CD32"/>
<rect x="337" y="180" width="5" height="22" fill="#32CD32"/>
<rect x="347" y="190" width="1" height="29" fill="#32CD32"/>
<rect x="345" y="201" width="5" height="16" fill="#32CD32"/>
<rect x="355" y="186" width="1" height="48" fill="#FF4500"/>
<rect x="353" y="192" width="5" height="26" fill="#FF4500"/>
<rect x="363" y="163" width="1" height="34" fill="#FF4500"/>
<rect x="361" y="166" width="5" height="26" fill="#FF4500"/>
<rect x="371" y="163" width="1" height="15" fill="#32CD32"/>
<rect x="369" y="166" width="5" height="8" fill="#32CD32"/>
<rect x="379" y="172" width="1" height="18" fill="#32CD32"/>
<rect x="377" y="173" width="5" height="16" fill="#32CD32"/>
<rect x="387" y="176" width="1" height="14" fill="#FF4500"/>
<rect x="385" y="184" width="5" height="5" fill="#FF4500"/>
<rect x="395" y="154" width="1" height="38" fill="#FF4500"/>
<rect x="393" y="181" width="5" height="4" fill="#FF4500"/>
<rect x="403" y="178" width="1" height="51" fill="#32CD32"/>
<rect x="401" y="181" width="5" height="47" fill="#32CD32"/>
<rect x="411" y="206" width="1" height="26" fill="#FF4500"/>
<rect x="409" y="221" width="5" height="7" fill="#FF4500"/>
<rect x="419" y="226" width="1" height="18" fill="#32CD32"/>
<rect x="417" y="229" width="5" height="11" fill="#32CD32"/>
<rect x="427" y="233" width="1" height="10" fill="#FF4500"/>
<rect x="425" y="238" width="5" height="2" fill="#FF4500"/>
<rect x="435" y="228" width="1" height="12" fill="#FF4500"/>
<rect x="433" y="229" width="5" height="10" fill="#FF4500"/>
<rect x="443" y="223" width="1" height="11" fill="#FF4500"/>
<rect x="441" y="227" width="5" height="3" fill="#FF4500"/>
<rect x="451" y="212" width="1" height="43" fill="#32CD32"/>
<rect x="449" y="226" width="5" height="26" fill="#32CD32"/>
<rect x="459" y="216" width="1" height="52" fill="#FF4500"/>
<rect x="457" y="226" width="5" height="26" fill="#FF4500"/>
<rect x="467" y="209" width="1" height="23" fill="#FF4500"/>
<rect x="465" y="219" width="5" height="8" fill="#FF4500"/>
<rect x="475" y="215" width="1" height="13" fill="#32CD32"/>
<rect x="473" y="218" width="5" height="6" fill="#32CD32"/>
<rect x="483" y="215" width="1" height="10" fill="#FF4500"/>
<rect x="481" y="220" width="5" height="4" fill="#FF4500"/>
<rect x="491" y="194" width="1" height="30" fill="#FF4500"/>
<rect x="489" y="198" width="5" height="23" fill="#FF4500"/>
<rect x="499" y="182" width="1" height="20" fill="#FF4500"/>
<rect x="497" y="197" width="5" height="2" fill="#FF4500"/>
<rect x="507" y="197" width="1" height="37" fill="#32CD32"/>
<rect x="505" y="197" width="5" height="15" fill="#32CD32"/>
<rect x="515" y="198" width="1" height="30" fill="#32CD32"/>
<rect x="513" y="210" width="5" height="8" fill="#32CD32"/>
<rect x="523" y="202" width="1" height="20" fill="#FF4500"/>
<rect x="521" y="204" width="5" height="15" fill="#FF4500"/>
<rect x="531" y="197" width="1" height="15" fill="#32CD32"/>
<rect x="529" y="204" width="5" height="7" fill="#32CD32"/>
<rect x="539" y="192" width="1" height="20" fill="#FF4500"/>
<rect x="537" y="198" width="5" height="13" fill="#FF4500"/>
<rect x="547" y="181" width="1" height="20" fill="#FF4500"/>
<rect x="545" y="182" width="5" height="16" fill="#FF4500"/>
<rect x="555" y="174" width="1" height="29" fill="#32CD32"/>
<rect x="553" y="182" width="5" height="13" fill="#32CD32"/>
<rect x="563" y="188" width="1" height="23" fill="#32CD32"/>
<rect x="561" y="194" width="5" height="7" fill="#32CD32"/>
<rect x="571" y="193" width="1" height="10" fill="#FF4500"/>
<rect x="569" y="195" width="5" height="6" fill="#FF4500"/>
<rect x="579" y="191" width="1" height="9" fill="#FF4500"/>
<rect x="577" y="191" width="5" height="5" fill="#FF4500"/>
<rect x="587" y="189" width="1" height="22" fill="#32CD32"/>
<rect x="585" y="191" width="5" height="18" fill="#32CD32"/>
<rect x="595" y="188" width="1" height="24" fill="#FF4500"/>
<rect x="593" y="204" width="5" height="4" fill="#FF4500"/>
<rect x="603" y="197" width="1" height="23" fill="#32CD32"/>
<rect x="601" y="204" width="5" height="8" fill="#32CD32"/>
<rect x="611" y="202" width="1" height="14" fill="#000"/>
<rect x="609" y="211" width="5" height="1" fill="#000"/>
<rect x="619" y="208" width="1" height="24" fill="#32CD32"/>
<rect x="617" y="211" width="5" height="15" fill="#32CD32"/>
<rect x="627" y="224" width="1" height="9" fill="#32CD32"/>
<rect x="625" y="224" width="5" height="6" fill="#32CD32"/>
<rect x="635" y="227" width="1" height="14" fill="#32CD32"/>
<rect x="633" y="229" width="5" height="2" fill="#32CD32"/>
<rect x="643" y="220" width="1" height="15" fill="#FF4500"/>
<rect x="641" y="228" width="5" height="3" fill="#FF4500"/>
<rect x="651" y="224" width="1" height="32" fill="#32CD32"/>
<rect x="649" y="229" width="5" height="22" fill="#32CD32"/>
<rect x="659" y="244" width="1" height="15" fill="#32CD32"/>
<rect x="657" y="249" width="5" height="3" fill="#32CD32"/>
<rect x="667" y="247" width="1" height="11" fill="#FF4500"/>
<rect x="665" y="248" width="5" height="10" fill="#FF4500"/>
<rect x="675" y="240" width="1" height="11" fill="#FF4500"/>
<rect x="673" y="244" width="5" height="5" fill="#FF4500"/>
<rect x="683" y="241" width="1" height="9" fill="#32CD32"/>
<rect x="681" y="244" width="5" height="6" fill="#32CD32"/>
<rect x="691" y="245" width="1" height="11" fill="#32CD32"/>
<rect x="689" y="249" width="5" height="5" fill="#32CD32"/>
<rect x="699" y="252" width="1" height="30" fill="#32CD32"/>
<rect x="697" y="253" width="5" height="9" fill="#32CD32"/>
<rect x="707" y="252" width="1" height="45" fill="#32CD32"/>
<rect x="705" y="260" width="5" height="34" fill="#32CD32"/>
<rect x="715" y="288" width="1" height="27" fill="#FF4500"/>
<rect x="713" y="289" width="5" height="6" fill="#FF4500"/>
<rect x="723" y="283" width="1" height="13" fill="#32CD32"/>
<rect x="721" y="288" width="5" height="4" fill="#32CD32"/>
<rect x="731" y="288" width="1" height="11" fill="#FF4500"/>
<rect x="729" y="289" width="5" height="3" fill="#FF4500"/>
<rect x="739" y="283" width="1" height="12" fill="#FF4500"/>
<rect x="737" y="286" width="5" height="4" fill="#FF4500"/>
<rect x="747" y="275" width="1" height="16" fill="#32CD32"/>
<rect x="745" y="286" width="5" height="2" fill="#32CD32"/>
<rect x="755" y="276" width="1" height="37" fill="#32CD32"/>
<rect x="753" y="286" width="5" height="27" fill="#32CD32"/>
<rect x="763" y="288" width="1" height="29" fill="#FF4500"/>
<rect x="761" y="304" width="5" height="9" fill="#FF4500"/>
<rect x="771" y="296" width="1" height="13" fill="#FF4500"/>
<rect x="769" y="296" width="5" height="8" fill="#FF4500"/>
<rect x="779" y="292" width="1" height="6" fill="#FF4500"/>
<rect x="777" y="295" width="5" height="2" fill="#FF4500"/>
<rect x="787" y="287" width="1" height="11" fill="#FF4500"/>
<rect x="785" y="290" width="5" height="6" fill="#FF4500"/>
<rect x="795" y="276" width="1" height="25" fill="#FF4500"/>
<rect x="793" y="277" width="5" height="14" fill="#FF4500"/>
<rect x="803" y="263" width="1" height="70" fill="#32CD32"/>
<rect x="801" y="277" width="5" height="50" fill="#32CD32"/>
<rect x="811" y="326" width="1" height="27" fill="#32CD32"/>
<rect x="809" y="326" width="5" height="8" fill="#32CD32"/>
<rect x="819" y="328" width="1" height="17" fill="#32CD32"/>
<rect x="817" y="333" width="5" height="11" fill="#32CD32"/>
<rect x="827" y="342" width="1" height="21" fill="#32CD32"/>
<rect x="825" y="343" width="5" height="8" fill="#32CD32"/>
<rect x="835" y="331" width="1" height="25" fill="#FF4500"/>
<rect x="833" y="332" width="5" height="19" fill="#FF4500"/>
<rect x="843" y="326" width="1" height="31" fill="#32CD32"/>
<rect x="841" y="331" width="5" height="11" fill="#32CD32"/>
<rect x="851" y="340" width="1" height="56" fill="#32CD32"/>
<rect x="849" y="341" width="5" height="25" fill="#32CD32"/>
<rect x="859" y="350" width="1" height="32" fill="#FF4500"/>
<rect x="857" y="358" width="5" height="8" fill="#FF4500"/>
<rect x="867" y="354" width="1" height="11" fill="#FF4500"/>
<rect x="865" y="358" width="5" height="1" fill="#FF4500"/>
<rect x="875" y="352" width="1" height="12" fill="#FF4500"/>
<rect x="873" y="357" width="5" height="2" fill="#FF4500"/>
<rect x="883" y="356" width="1" height="17" fill="#32CD32"/>
<rect x="881" y="357" width="5" height="8" fill="#32CD32"/>
<rect x="891" y="335" width="1" height="35" fill="#FF4500"/>
<rect x="889" y="358" width="5" height="6" fill="#FF4500"/>
<rect x="899" y="358" width="1" height="44" fill="#32CD32"/>
<rect x="897" y="358" width="5" height="39" fill="#32CD32"/>
<rect x="907" y="392" width="1" height="33" fill="#32CD32"/>
<rect x="905" y="396" width="5" height="27" fill="#32CD32"/>
<rect x="915" y="413" width="1" height="18" fill="#FF4500"/>
<rect x="913" y="417" width="5" height="13" fill="#FF4500"/>
<rect x="923" y="405" width="1" height="20" fill="#FF4500"/>
<rect x="921" y="409" width="5" height="9" fill="#FF4500"/>
<rect x="931" y="402" width="1" height="8" fill="#FF4500"/>
<rect x="929" y="407" width="5" height="3" fill="#FF4500"/>
<rect x="939" y="401" width="1" height="14" fill="#32CD32"/>
<rect x="937" y="408" width="5" height="7" fill="#32CD32"/>
<rect x="947" y="413" width="1" height="49" fill="#32CD32"/>
<rect x="945" y="413" width="5" height="25" fill="#32CD32"/>
<rect x="955" y="432" width="1" height="55" fill="#32CD32"/>
<rect x="953" y="436" width="5" height="51" fill="#32CD32"/>
<rect x="963" y="477" width="1" height="31" fill="#32CD32"/>
<rect x="961" y="479" width="5" height="3" fill="#32CD32"/>
<rect x="971" y="474" width="1" height="25" fill="#32CD32"/>
<rect x="969" y="481" width="5" height="10" fill="#32CD32"/>
<rect x="979" y="483" width="1" height="18" fill="#FF4500"/>
<rect x="977" y="483" width="5" height="8" fill="#FF4500"/>
<rect x="987" y="469" width="1" height="17" fill="#FF4500"/>
<rect x="985" y="473" width="5" height="11" fill="#FF4500"/>
<rect x="995" y="444" width="1" height="38" fill="#32CD32"/>
<rect x="993" y="472" width="5" height="7" fill="#32CD32"/>
<rect x="1003" y="412" width="1" height="68" fill="#FF4500"/>
<rect x="1001" y="412" width="5" height="67" fill="#FF4500"/>
<rect x="1011" y="363" width="1" height="53" fill="#FF4500"/>
<rect x="1009" y="376" width="5" height="37" fill="#FF4500"/>
<rect x="1019" y="374" width="1" height="9" fill="#FF4500"/>
<rect x="1017" y="375" width="5" height="3" fill="#FF4500"/>
<rect x="1027" y="360" width="1" height="24" fill="#32CD32"/>
<rect x="1025" y="376" width="5" height="7" fill="#32CD32"/>
<rect x="1035" y="380" width="1" height="33" fill="#32CD32"/>
<rect x="1033" y="382" width="5" height="23" fill="#32CD32"/>
<rect x="1043" y="391" width="1" height="31" fill="#32CD32"/>
<rect x="1041" y="403" width="5" height="8" fill="#32CD32"/>
<rect x="1051" y="393" width="1" height="43" fill="#FF4500"/>
<rect x="1049" y="407" width="5" height="5" fill="#FF4500"/>
<rect x="1059" y="344" width="1" height="72" fill="#FF4500"/>
<rect x="1057" y="358" width="5" height="49" fill="#FF4500"/>
<rect x="1067" y="343" width="1" height="16" fill="#FF4500"/>
<rect x="1065" y="344" width="5" height="15" fill="#FF4500"/>
<rect x="1075" y="337" width="1" height="22" fill="#32CD32"/>
<rect x="1073" y="345" width="5" height="9" fill="#32CD32"/>
<rect x="1083" y="325" width="1" height="33" fill="#FF4500"/>
<rect x="1081" y="335" width="5" height="19" fill="#FF4500"/>
<rect x="1091" y="332" width="1" height="36" fill="#32CD32"/>
<rect x="1089" y="335" width="5" height="23" fill="#32CD32"/>
<rect x="1099" y="323" width="1" height="39" fill="#FF4500"/>
<rect x="1097" y="326" width="5" height="32" fill="#FF4500"/>
<rect x="1107" y="324" width="1" height="40" fill="#32CD32"/>
<rect x="1105" y="325" width="5" height="30" fill="#32CD32"/>
<rect x="1115" y="336" width="1" height="11" fill="#FF4500"/>
<rect x="1113" y="342" width="5" height="5" fill="#FF4500"/>
<rect x="1123" y="335" width="1" height="10" fill="#FF4500"/>
<rect x="1121" y="341" width="5" height="2" fill="#FF4500"/>
<rect x="1131" y="334" width="1" height="9" fill="#FF4500"/>
<rect x="1129" y="335" width="5" height="7" fill="#FF4500"/>
<rect x="1139" y="335" width="1" height="5" fill="#32CD32"/>
<rect x="1137" y="335" width="5" height="2" fill="#32CD32"/>
<rect x="1147" y="331" width="1" height="22" fill="#32CD32"/>
<rect x="1145" y="336" width="5" height="14" fill="#32CD32"/>
<rect x="1155" y="334" width="1" height="25" fill="#FF4500"/>
<rect x="1153" y="347" width="5" height="3" fill="#FF4500"/>
<rect x="1163" y="331" width="1" height="23" fill="#FF4500"/>
<rect x="1161" y="334" width="5" height="14" fill="#FF4500"/>
<rect x="1171" y="324" width="1" height="14" fill="#FF4500"/>
<rect x="1169" y="327" width="5" height="9" fill="#FF4500"/>
<rect x="1179" y="324" width="1" height="30" fill="#32CD32"/>
<rect x="1177" y="327" width="5" height="23" fill="#32CD32"/>
<rect x="1187" y="348" width="1" height="17" fill="#32CD32"/>
<rect x="1185" y="348" width="5" height="17" fill="#32CD32"/>
<rect x="1195" y="363" width="1" height="23" fill="#32CD32"/>
<rect x="1193" y="364" width="5" height="7" fill="#32CD32"/>
<rect x="1203" y="343" width="1" height="35" fill="#FF4500"/>
<rect x="1201" y="346" width="5" height="25" fill="#FF4500"/>
<rect x="1211" y="324" width="1" height="25" fill="#FF4500"/>
<rect x="1209" y="337" width="5" height="9" fill="#FF4500"/>
<rect x="1219" y="331" width="1" height="39" fill="#32CD32"/>
<rect x="1217" y="337" width="5" height="29" fill="#32CD32"/>
<rect x="1227" y="356" width="1" height="11" fill="#FF4500"/>
<rect x="1225" y="362" width="5" height="4" fill="#FF4500"/>
<rect x="1235" y="360" width="1" height="15" fill="#32CD32"/>
<rect x="1233" y="362" width="5" height="4" fill="#32CD32"/>
<rect x="1243" y="360" width="1" height="14" fill="#32CD32"/>
<rect x="1241" y="365" width="5" height="4" fill="#32CD32"/>
<rect x="1251" y="348" width="1" height="42" fill="#32CD32"/>
<rect x="1249" y="368" width="5" height="11" fill="#32CD32"/>
<rect x="1259" y="352" width="1" height="34" fill="#32CD32"/>
<rect x="1257" y="378" width="5" height="5" fill="#32CD32"/>
<rect x="1267" y="377" width="1" height="17" fill="#32CD32"/>
<rect x="1265" y="382" width="5" height="7" fill="#32CD32"/>
<rect x="1275" y="386" width="1" height="6" fill="#32CD32"/>
<rect x="1273" y="388" width="5" height="4" fill="#32CD32"/>
</g>
<rect x="1612" y="258" width="1" height="2" fill="#FF0000"/>
<rect x="1612" y="313" width="1" height="2" fill="#FF0000"/>
<rect x="1612" y="350" width="1" height="2" fill="#00FF7F"/>
<rect x="1612" y="431" width="1" height="2" fill="#0000FF"/>
<rect x="1612" y="484" width="1" height="2" fill="#0000FF"/>
<path d="M1285,37 L1296,37 L1290.5,43 Z" fill="#C0C0C0"/>
<path d="M14,48.5 L18.5,44 L23,48.5 Z" fill="#000"/>
<text x="28.54" y="50.8" font-size="12.4" fill="#000" letter-spacing="-0.341">SP500-,H4</text>
<text x="94.68" y="50.8" font-size="12.4" fill="#000" letter-spacing="0.113">2449.500</text>
<text x="151.78" y="50.8" font-size="12.4" fill="#000" letter-spacing="0.141">2451.000</text>
<text x="209.08" y="50.8" font-size="12.4" fill="#000" letter-spacing="0.113">2444.250</text>
<text x="265.78" y="50.8" font-size="12.4" fill="#000" letter-spacing="0.156">2444.500</text>
<text x="1335.3" y="207" font-size="32.5" fill="#FF0000" font-family='"Liberation Sans","Noto Sans CJK SC",sans-serif'>多空转折点<tspan font-size="36.4" textLength="74.5" lengthAdjust="spacingAndGlyphs">2490</tspan></text>
<rect x="1613" y="59" width="2" height="1" fill="#000"/>
<text x="1618.68" y="64" font-size="12.4" fill="#000" letter-spacing="0.160">2814.590</text>
<rect x="1613" y="108" width="2" height="1" fill="#000"/>
<text x="1618.68" y="113" font-size="12.4" fill="#000" letter-spacing="0.160">2759.340</text>
<rect x="1613" y="157" width="2" height="1" fill="#000"/>
<text x="1618.68" y="162" font-size="12.4" fill="#000" letter-spacing="0.160">2705.195</text>
<rect x="1613" y="206" width="2" height="1" fill="#000"/>
<text x="1618.68" y="211" font-size="12.4" fill="#000" letter-spacing="0.160">2651.050</text>
<rect x="1613" y="255" width="2" height="1" fill="#000"/>
<text x="1618.68" y="260" font-size="12.4" fill="#000" letter-spacing="0.160">2596.905</text>
<rect x="1613" y="304" width="2" height="1" fill="#000"/>
<text x="1618.68" y="309" font-size="12.4" fill="#000" letter-spacing="0.160">2542.760</text>
<rect x="1613" y="353" width="2" height="1" fill="#000"/>
<text x="1618.68" y="358" font-size="12.4" fill="#000" letter-spacing="0.160">2488.615</text>
<rect x="1613" y="402" width="2" height="1" fill="#000"/>
<text x="1618.68" y="407" font-size="12.4" fill="#000" letter-spacing="0.160">2433.365</text>
<rect x="1613" y="451" width="2" height="1" fill="#000"/>
<text x="1618.68" y="456" font-size="12.4" fill="#000" letter-spacing="0.160">2379.220</text>
<rect x="1613" y="500" width="2" height="1" fill="#000"/>
<text x="1618.68" y="505" font-size="12.4" fill="#000" letter-spacing="0.160">2325.075</text>
<rect x="1614" y="253" width="63" height="14" fill="#FF0000"/>
<text x="1618.68" y="265" font-size="12.4" fill="#FFFFFF" letter-spacing="0.160">2592.135</text>
<rect x="1614" y="308" width="63" height="14" fill="#FF0000"/>
<text x="1618.68" y="320" font-size="12.4" fill="#FFFFFF" letter-spacing="0.160">2530.771</text>
<rect x="1614" y="345" width="63" height="14" fill="#00FF7F"/>
<text x="1618.68" y="357" font-size="12.4" fill="#FFFFFF" letter-spacing="0.160">2490.208</text>
<rect x="1614" y="385" width="63" height="14" fill="#000000"/>
<text x="1618.68" y="397" font-size="12.4" fill="#FFFFFF" letter-spacing="0.160">2444.500</text>
<rect x="1614" y="426" width="63" height="14" fill="#0000FF"/>
<text x="1618.68" y="438" font-size="12.4" fill="#FFFFFF" letter-spacing="0.160">2400.662</text>
<rect x="1614" y="479" width="63" height="14" fill="#0000FF"/>
<text x="1618.68" y="491" font-size="12.4" fill="#FFFFFF" letter-spacing="0.160">2340.834</text>
<text x="14.78" y="536.8" font-size="12.4" fill="#000" letter-spacing="-0.079">MACD(12,26,9)</text>
<text x="103.55" y="536.8" font-size="12.4" fill="#000" letter-spacing="0.136">-4.3397</text>
<text x="148.55" y="536.8" font-size="12.4" fill="#000" letter-spacing="-0.131">-2.9505</text>
<g clip-path="url(#macdclip)" shape-rendering="crispEdges">
<rect x="11" y="544" width="1" height="1" fill="#C0C0C0"/>
<rect x="19" y="544" width="1" height="1" fill="#C0C0C0"/>
<rect x="27" y="543" width="1" height="2" fill="#C0C0C0"/>
<rect x="35" y="543" width="1" height="2" fill="#C0C0C0"/>
<rect x="43" y="542" width="1" height="3" fill="#C0C0C0"/>
<rect x="51" y="542" width="1" height="3" fill="#C0C0C0"/>
<rect x="59" y="541" width="1" height="4" fill="#C0C0C0"/>
<rect x="67" y="538" width="1" height="7" fill="#C0C0C0"/>
<rect x="75" y="536" width="1" height="9" fill="#C0C0C0"/>
<rect x="83" y="536" width="1" height="9" fill="#C0C0C0"/>
<rect x="91" y="535" width="1" height="10" fill="#C0C0C0"/>
<rect x="99" y="534" width="1" height="11" fill="#C0C0C0"/>
<rect x="107" y="533" width="1" height="12" fill="#C0C0C0"/>
<rect x="115" y="532" width="1" height="13" fill="#C0C0C0"/>
<rect x="123" y="532" width="1" height="13" fill="#C0C0C0"/>
<rect x="131" y="532" width="1" height="13" fill="#C0C0C0"/>
<rect x="139" y="532" width="1" height="13" fill="#C0C0C0"/>
<rect x="147" y="532" width="1" height="13" fill="#C0C0C0"/>
<rect x="155" y="532" width="1" height="13" fill="#C0C0C0"/>
<rect x="163" y="532" width="1" height="13" fill="#C0C0C0"/>
<rect x="171" y="532" width="1" height="13" fill="#C0C0C0"/>
<rect x="179" y="532" width="1" height="13" fill="#C0C0C0"/>
<rect x="187" y="532" width="1" height="13" fill="#C0C0C0"/>
<rect x="195" y="527" width="1" height="18" fill="#C0C0C0"/>
<rect x="203" y="526" width="1" height="19" fill="#C0C0C0"/>
<rect x="211" y="527" width="1" height="18" fill="#C0C0C0"/>
<rect x="219" y="528" width="1" height="17" fill="#C0C0C0"/>
<rect x="227" y="528" width="1" height="17" fill="#C0C0C0"/>
<rect x="235" y="529" width="1" height="16" fill="#C0C0C0"/>
<rect x="243" y="531" width="1" height="14" fill="#C0C0C0"/>
<rect x="251" y="532" width="1" height="13" fill="#C0C0C0"/>
<rect x="259" y="533" width="1" height="12" fill="#C0C0C0"/>
<rect x="267" y="536" width="1" height="9" fill="#C0C0C0"/>
<rect x="275" y="540" width="1" height="5" fill="#C0C0C0"/>
<rect x="283" y="543" width="1" height="2" fill="#C0C0C0"/>
<rect x="299" y="544" width="1" height="2" fill="#C0C0C0"/>
<rect x="307" y="544" width="1" height="3" fill="#C0C0C0"/>
<rect x="315" y="544" width="1" height="6" fill="#C0C0C0"/>
<rect x="323" y="544" width="1" height="8" fill="#C0C0C0"/>
<rect x="331" y="544" width="1" height="10" fill="#C0C0C0"/>
<rect x="339" y="544" width="1" height="12" fill="#C0C0C0"/>
<rect x="347" y="544" width="1" height="14" fill="#C0C0C0"/>
<rect x="355" y="544" width="1" height="15" fill="#C0C0C0"/>
<rect x="363" y="544" width="1" height="14" fill="#C0C0C0"/>
<rect x="371" y="544" width="1" height="13" fill="#C0C0C0"/>
<rect x="379" y="544" width="1" height="13" fill="#C0C0C0"/>
<rect x="387" y="544" width="1" height="13" fill="#C0C0C0"/>
<rect x="395" y="544" width="1" height="12" fill="#C0C0C0"/>
<rect x="403" y="544" width="1" height="13" fill="#C0C0C0"/>
<rect x="411" y="544" width="1" height="14" fill="#C0C0C0"/>
<rect x="419" y="544" width="1" height="16" fill="#C0C0C0"/>
<rect x="427" y="544" width="1" height="18" fill="#C0C0C0"/>
<rect x="435" y="544" width="1" height="18" fill="#C0C0C0"/>
<rect x="443" y="544" width="1" height="18" fill="#C0C0C0"/>
<rect x="451" y="544" width="1" height="17" fill="#C0C0C0"/>
<rect x="459" y="544" width="1" height="18" fill="#C0C0C0"/>
<rect x="467" y="544" width="1" height="17" fill="#C0C0C0"/>
<rect x="475" y="544" width="1" height="16" fill="#C0C0C0"/>
<rect x="483" y="544" width="1" height="15" fill="#C0C0C0"/>
<rect x="491" y="544" width="1" height="13" fill="#C0C0C0"/>
<rect x="499" y="544" width="1" height="11" fill="#C0C0C0"/>
<rect x="507" y="544" width="1" height="10" fill="#C0C0C0"/>
<rect x="515" y="544" width="1" height="9" fill="#C0C0C0"/>
<rect x="523" y="544" width="1" height="9" fill="#C0C0C0"/>
<rect x="531" y="544" width="1" height="8" fill="#C0C0C0"/>
<rect x="539" y="544" width="1" height="6" fill="#C0C0C0"/>
<rect x="547" y="544" width="1" height="4" fill="#C0C0C0"/>
<rect x="555" y="544" width="1" height="3" fill="#C0C0C0"/>
<rect x="563" y="544" width="1" height="3" fill="#C0C0C0"/>
<rect x="571" y="544" width="1" height="2" fill="#C0C0C0"/>
<rect x="579" y="544" width="1" height="2" fill="#C0C0C0"/>
<rect x="587" y="544" width="1" height="2" fill="#C0C0C0"/>
<rect x="595" y="544" width="1" height="2" fill="#C0C0C0"/>
<rect x="603" y="544" width="1" height="2" fill="#C0C0C0"/>
<rect x="611" y="544" width="1" height="2" fill="#C0C0C0"/>
<rect x="619" y="544" width="1" height="2" fill="#C0C0C0"/>
<rect x="627" y="544" width="1" height="3" fill="#C0C0C0"/>
<rect x="635" y="544" width="1" height="4" fill="#C0C0C0"/>
<rect x="643" y="544" width="1" height="6" fill="#C0C0C0"/>
<rect x="651" y="544" width="1" height="7" fill="#C0C0C0"/>
<rect x="659" y="544" width="1" height="8" fill="#C0C0C0"/>
<rect x="667" y="544" width="1" height="9" fill="#C0C0C0"/>
<rect x="675" y="544" width="1" height="10" fill="#C0C0C0"/>
<rect x="683" y="544" width="1" height="10" fill="#C0C0C0"/>
<rect x="691" y="544" width="1" height="10" fill="#C0C0C0"/>
<rect x="699" y="544" width="1" height="11" fill="#C0C0C0"/>
<rect x="707" y="544" width="1" height="13" fill="#C0C0C0"/>
<rect x="715" y="544" width="1" height="14" fill="#C0C0C0"/>
<rect x="723" y="544" width="1" height="15" fill="#C0C0C0"/>
<rect x="731" y="544" width="1" height="16" fill="#C0C0C0"/>
<rect x="739" y="544" width="1" height="16" fill="#C0C0C0"/>
<rect x="747" y="544" width="1" height="16" fill="#C0C0C0"/>
<rect x="755" y="544" width="1" height="17" fill="#C0C0C0"/>
<rect x="763" y="544" width="1" height="16" fill="#C0C0C0"/>
<rect x="771" y="544" width="1" height="16" fill="#C0C0C0"/>
<rect x="779" y="544" width="1" height="16" fill="#C0C0C0"/>
<rect x="787" y="544" width="1" height="15" fill="#C0C0C0"/>
<rect x="795" y="544" width="1" height="14" fill="#C0C0C0"/>
<rect x="803" y="544" width="1" height="15" fill="#C0C0C0"/>
<rect x="811" y="544" width="1" height="16" fill="#C0C0C0"/>
<rect x="819" y="544" width="1" height="18" fill="#C0C0C0"/>
<rect x="827" y="544" width="1" height="19" fill="#C0C0C0"/>
<rect x="835" y="544" width="1" height="19" fill="#C0C0C0"/>
<rect x="843" y="544" width="1" height="19" fill="#C0C0C0"/>
<rect x="851" y="544" width="1" height="21" fill="#C0C0C0"/>
<rect x="859" y="544" width="1" height="21" fill="#C0C0C0"/>
<rect x="867" y="544" width="1" height="21" fill="#C0C0C0"/>
<rect x="875" y="544" width="1" height="21" fill="#C0C0C0"/>
<rect x="883" y="544" width="1" height="20" fill="#C0C0C0"/>
<rect x="891" y="544" width="1" height="20" fill="#C0C0C0"/>
<rect x="899" y="544" width="1" height="21" fill="#C0C0C0"/>
<rect x="907" y="544" width="1" height="22" fill="#C0C0C0"/>
<rect x="915" y="544" width="1" height="24" fill="#C0C0C0"/>
<rect x="923" y="544" width="1" height="25" fill="#C0C0C0"/>
<rect x="931" y="544" width="1" height="25" fill="#C0C0C0"/>
<rect x="939" y="544" width="1" height="25" fill="#C0C0C0"/>
<rect x="947" y="544" width="1" height="26" fill="#C0C0C0"/>
<rect x="955" y="544" width="1" height="29" fill="#C0C0C0"/>
<rect x="963" y="544" width="1" height="31" fill="#C0C0C0"/>
<rect x="971" y="544" width="1" height="33" fill="#C0C0C0"/>
<rect x="979" y="544" width="1" height="34" fill="#C0C0C0"/>
<rect x="987" y="544" width="1" height="33" fill="#C0C0C0"/>
<rect x="995" y="544" width="1" height="33" fill="#C0C0C0"/>
<rect x="1003" y="544" width="1" height="29" fill="#C0C0C0"/>
<rect x="1011" y="544" width="1" height="23" fill="#C0C0C0"/>
<rect x="1019" y="544" width="1" height="18" fill="#C0C0C0"/>
<rect x="1027" y="544" width="1" height="14" fill="#C0C0C0"/>
<rect x="1035" y="544" width="1" height="12" fill="#C0C0C0"/>
<rect x="1043" y="544" width="1" height="11" fill="#C0C0C0"/>
<rect x="1051" y="544" width="1" height="10" fill="#C0C0C0"/>
<rect x="1059" y="544" width="1" height="7" fill="#C0C0C0"/>
<rect x="1067" y="544" width="1" height="3" fill="#C0C0C0"/>
<rect x="1083" y="542" width="1" height="3" fill="#C0C0C0"/>
<rect x="1091" y="541" width="1" height="4" fill="#C0C0C0"/>
<rect x="1099" y="538" width="1" height="7" fill="#C0C0C0"/>
<rect x="1107" y="538" width="1" height="7" fill="#C0C0C0"/>
<rect x="1115" y="537" width="1" height="8" fill="#C0C0C0"/>
<rect x="1123" y="536" width="1" height="9" fill="#C0C0C0"/>
<rect x="1131" y="535" width="1" height="10" fill="#C0C0C0"/>
<rect x="1139" y="535" width="1" height="10" fill="#C0C0C0"/>
<rect x="1147" y="535" width="1" height="10" fill="#C0C0C0"/>
<rect x="1155" y="535" width="1" height="10" fill="#C0C0C0"/>
<rect x="1163" y="535" width="1" height="10" fill="#C0C0C0"/>
<rect x="1171" y="535" width="1" height="10" fill="#C0C0C0"/>
<rect x="1179" y="536" width="1" height="9" fill="#C0C0C0"/>
<rect x="1187" y="537" width="1" height="8" fill="#C0C0C0"/>
<rect x="1195" y="539" width="1" height="6" fill="#C0C0C0"/>
<rect x="1203" y="540" width="1" height="5" fill="#C0C0C0"/>
<rect x="1211" y="539" width="1" height="6" fill="#C0C0C0"/>
<rect x="1219" y="540" width="1" height="5" fill="#C0C0C0"/>
<rect x="1227" y="541" width="1" height="4" fill="#C0C0C0"/>
<rect x="1235" y="542" width="1" height="3" fill="#C0C0C0"/>
<rect x="1243" y="543" width="1" height="2" fill="#C0C0C0"/>
<rect x="1259" y="543" width="1" height="2" fill="#C0C0C0"/>
<rect x="1267" y="543" width="1" height="2" fill="#C0C0C0"/>
<rect x="1275" y="544" width="1" height="3" fill="#C0C0C0"/>
<polyline points="11.5,548.2 27.5,546.5 46.5,544.8 65.5,542.7 84.5,540.3 98.5,538.4 112.5,535.6 131.5,533.7 150.5,532.6 170.5,531.8 190.5,530.4 217.5,528.5 234.5,527.4 259.5,528.2 274,530.2 288.5,533.5 302.5,536.3 316.5,542 330.5,545.3 345,550.1 359.2,552.9 373.5,554.8 387.5,556.2 400.5,557.2 416.5,558 438.1,558.6 452.5,560.4 466.5,561.4 494.5,561.2 509,559 523.2,557.2 537.5,555.2 551.5,552.9 565.5,550.9 580,549.1 594.5,548.1 608.5,547.2 622.5,546.3 635.5,547.2 644.5,547.2 651.5,548.4 666,549.5 680.5,550.5 694.5,552.4 708.5,553.4 722.5,555.5 736.5,557.2 751.5,557.6 765.5,559.7 772.5,560.4 829.5,560.4 843.5,561.4 857.5,562.3 870.5,563.3 908.5,565.1 915.5,566.1 936.5,566.6 950.5,567.5 964.5,569.7 979,571.8 993.5,573.6 1007.5,574.2 1021.5,573.2 1035.5,570.4 1050,565.1 1064.5,560.4 1078.5,554.8 1092.5,549.5 1105.5,545.8 1121.5,541.6 1136,539.2 1145.9,536.3 1160.1,535.3 1199.8,535.3 1206.9,536.3 1235.3,537.7 1249.5,539.9 1263.7,541.6 1275.5,544.1" fill="none" stroke="#FF0000" stroke-width="1" stroke-dasharray="3,3"/>
</g>
<rect x="1613" y="522" width="2" height="1" fill="#000"/>
<rect x="1613" y="544" width="2" height="1" fill="#000"/>
<rect x="1613" y="580" width="2" height="1" fill="#000"/>
<text x="1615.83" y="535" font-size="12.4" fill="#000" letter-spacing="0.129">34.1727</text>
<text x="1616.02" y="549" font-size="12.4" fill="#000" letter-spacing="0.160">0.00</text>
<text x="1615.85" y="577.7" font-size="12.4" fill="#000" letter-spacing="0.089">-56.0395</text>
<g clip-path="url(#rsiclip)" shape-rendering="crispEdges">
<line x1="11" y1="621.5" x2="1612" y2="621.5" stroke="#A9A9A9" stroke-width="1" stroke-dasharray="3,3" stroke-dashoffset="5"/>
<line x1="11" y1="671.5" x2="1612" y2="671.5" stroke="#A9A9A9" stroke-width="1" stroke-dasharray="3,3" stroke-dashoffset="5"/>
<polyline points="11.5,637.3 19.5,635 27.5,630.7 35.5,630.3 43.5,629 51.5,626.5 59.5,629.4 67.5,613.3 75.5,610.4 83.5,612.3 91.5,614.2 99.5,618 107.5,622.4 115.5,613.3 123.5,624.3 131.5,623.3 139.5,625 147.5,632.2 155.5,628 163.5,624.6 171.5,619.9 179.5,610.4 187.5,610.4 195.5,609.1 203.5,617.1 211.5,629 219.5,628.4 227.5,628.4 235.5,632.6 243.5,634.1 251.5,632.6 259.5,637.9 267.5,658.7 275.5,663.4 283.5,662.1 291.5,660.2 299.5,659.1 307.5,658.3 315.5,669.1 323.5,672.3 331.5,667.8 339.5,672 347.5,675.7 355.5,661.5 363.5,651.5 371.5,654 379.5,658.3 387.5,657.4 395.5,655.5 403.5,667.2 411.5,665.3 419.5,669.7 427.5,668.2 435.5,664.4 443.5,663.4 451.5,669.1 459.5,658.3 467.5,655.5 475.5,656.4 483.5,654.9 491.5,646.4 499.5,646.4 507.5,651.1 515.5,653.4 523.5,647.3 531.5,650.2 539.5,646.4 547.5,639.4 555.5,643.9 563.5,646.4 571.5,644.5 579.5,643.6 587.5,650.2 595.5,648.3 603.5,651.5 611.5,651.5 619.5,657.4 627.5,659.3 635.5,659.3 643.5,658.3 651.5,666.3 659.5,666.3 667.5,664.4 675.5,661.2 683.5,662.9 691.5,664.8 699.5,668.2 707.5,678.6 715.5,675.4 723.5,675.2 731.5,673.3 739.5,671.4 747.5,671.4 755.5,679.5 763.5,672.9 771.5,667.8 779.5,666.3 787.5,662.1 795.5,653.4 803.5,670.4 811.5,672.9 819.5,675.4 827.5,676.1 835.5,665.3 843.5,669.1 851.5,674.2 859.5,670.6 867.5,670.6 875.5,669.5 883.5,670.6 891.5,668.2 899.5,677.2 907.5,682.4 915.5,679.5 923.5,674.8 931.5,673.5 939.5,675.4 947.5,680 955.5,686.1 963.5,684.6 971.5,685.2 979.5,681 987.5,675.7 995.5,676.1 1003.5,649.6 1011.5,639.4 1019.5,639.4 1027.5,641.3 1035.5,648.3 1043.5,650.2 1051.5,649.2 1059.5,635.6 1067.5,632.6 1075.5,635.6 1083.5,631.3 1091.5,638.3 1099.5,632.6 1107.5,640.2 1115.5,637.5 1123.5,637.5 1131.5,636.4 1139.5,636.4 1147.5,641.3 1155.5,640.2 1163.5,636.4 1171.5,634.1 1179.5,642.6 1187.5,647.3 1195.5,649.2 1203.5,641 1211.5,639.5 1219.5,648.4 1227.5,647.4 1235.5,648.4 1243.5,649.5 1251.5,652.5 1259.5,654.2 1267.5,656.4 1275.5,657.4" fill="none" stroke="#1E90FF" stroke-width="1"/>
</g>
<text x="14.78" y="598.8" font-size="12.4" fill="#000" letter-spacing="-0.106">RSI(14)</text>
<text x="60.82" y="598.8" font-size="12.4" fill="#000" letter-spacing="0.151">40.8543</text>
<rect x="1613" y="585" width="2" height="1" fill="#000"/>
<rect x="1613" y="621" width="2" height="1" fill="#000"/>
<rect x="1613" y="671" width="2" height="1" fill="#000"/>
<rect x="1613" y="707" width="1" height="1" fill="#000"/>
<text x="1616.06" y="597" font-size="12.4" fill="#000" letter-spacing="0.160">100</text>
<text x="1616.36" y="626" font-size="12.4" fill="#000" letter-spacing="0.160">70</text>
<text x="1616.53" y="676" font-size="12.4" fill="#000" letter-spacing="0.160">30</text>
<text x="1616.52" y="705" font-size="12.4" fill="#000">0</text>
<rect x="11" y="709" width="1" height="3" fill="#000"/>
<text x="9.58" y="724.2" font-size="12.4" fill="#000" letter-spacing="0.084">27 Nov 2018</text>
<rect x="107" y="709" width="1" height="3" fill="#000"/>
<text x="105.38" y="724.2" font-size="12.4" fill="#000" letter-spacing="0.149">29 Nov 12:00</text>
<rect x="203" y="709" width="1" height="3" fill="#000"/>
<text x="201.63" y="724.2" font-size="12.4" fill="#000" letter-spacing="0.109">3 Dec 08:00</text>
<rect x="299" y="709" width="1" height="3" fill="#000"/>
<text x="297.80" y="724.2" font-size="12.4" fill="#000" letter-spacing="0.081">5 Dec 08:00</text>
<rect x="395" y="709" width="1" height="3" fill="#000"/>
<text x="393.56" y="724.2" font-size="12.4" fill="#000" letter-spacing="0.145">7 Dec 12:00</text>
<rect x="491" y="709" width="1" height="3" fill="#000"/>
<text x="489.76" y="724.2" font-size="12.4" fill="#000" letter-spacing="0.097">11 Dec 08:00</text>
<rect x="587" y="709" width="1" height="3" fill="#000"/>
<text x="585.86" y="724.2" font-size="12.4" fill="#000" letter-spacing="0.097">13 Dec 08:00</text>
<rect x="683" y="709" width="1" height="3" fill="#000"/>
<text x="681.56" y="724.2" font-size="12.4" fill="#000" letter-spacing="0.133">17 Dec 04:00</text>
<rect x="779" y="709" width="1" height="3" fill="#000"/>
<text x="777.86" y="724.2" font-size="12.4" fill="#000" letter-spacing="0.079">19 Dec 04:00</text>
<rect x="875" y="709" width="1" height="3" fill="#000"/>
<text x="873.68" y="724.2" font-size="12.4" fill="#000" letter-spacing="0.104">21 Dec 04:00</text>
<rect x="971" y="709" width="1" height="3" fill="#000"/>
<text x="969.58" y="724.2" font-size="12.4" fill="#000" letter-spacing="0.140">26 Dec 00:00</text>
<rect x="1067" y="709" width="1" height="3" fill="#000"/>
<text x="1065.58" y="724.2" font-size="12.4" fill="#000" letter-spacing="0.122">28 Dec 00:00</text>
<rect x="1163" y="709" width="1" height="3" fill="#000"/>
<text x="1161.63" y="724.2" font-size="12.4" fill="#000" letter-spacing="0.127">31 Dec 20:00</text>
<rect x="1259" y="709" width="1" height="3" fill="#000"/>
<text x="1257.63" y="724.2" font-size="12.4" fill="#000" letter-spacing="0.045">3 Jan 16:00</text>
<rect x="11" y="57" width="289" height="80" fill="#FFFFFF"/>
<rect x="14" y="59" width="68" height="27" fill="url(#sellTab)"/>
<rect x="14" y="86" width="141" height="49" fill="url(#sellLow)"/>
<rect x="229" y="59" width="68" height="27" fill="url(#sellTab)"/>
<rect x="157" y="86" width="140" height="49" fill="url(#sellLow)"/>
<path d="M14.5,134.5 L14.5,59.5 L81.5,59.5 L81.5,86.5 L154.5,86.5 L154.5,134.5 Z" fill="none" stroke="#B40000" stroke-width="1"/>
<path d="M157.5,134.5 L157.5,86.5 L229.5,86.5 L229.5,59.5 L296.5,59.5 L296.5,134.5 Z" fill="none" stroke="#B40000" stroke-width="1"/>
<rect x="14" y="134" width="141" height="1" fill="#A00000"/>
<rect x="157" y="134" width="140" height="1" fill="#A00000"/>
<rect x="18" y="85" width="60" height="1" fill="#B00000"/>
<rect x="233" y="85" width="60" height="1" fill="#B00000"/>
<rect x="84" y="59" width="143" height="25" fill="#B4B8C0"/>
<rect x="85" y="60" width="141" height="23" fill="#FFFFFF"/>
<rect x="85" y="60" width="24" height="23" fill="url(#btnG)"/>
<rect x="109" y="60" width="1" height="23" fill="#B4B8C0"/>
<rect x="202" y="60" width="1" height="23" fill="#B4B8C0"/>
<rect x="203" y="60" width="23" height="23" fill="url(#btnG)"/>
<path d="M93,70 L100.5,70 L96.75,74 Z" fill="#5C6EC0"/>
<path d="M211,73 L218.5,73 L214.75,69 Z" fill="#5C6EC0"/>
<text x="167.99" y="76.8" font-size="14.6" fill="#000" letter-spacing="0.756">1.00</text>
<text x="30.76" y="77.6" font-size="14.2" fill="#FFFFFF" letter-spacing="-0.374">SELL</text>
<text x="247.34" y="77.6" font-size="14.2" fill="#FFFFFF" letter-spacing="0.290">BUY</text>
<text x="34.99" y="124" font-size="14.6" fill="#FFFFFF" font-weight="bold" letter-spacing="1.135">2444</text>
<text x="74.42" y="124.5" font-size="42.6" fill="#FFFFFF" letter-spacing="-2.255">48</text>
<text x="124.25" y="106" font-size="14.6" fill="#FFFFFF" font-weight="bold">5</text>
<text x="176.69" y="124" font-size="14.6" fill="#FFFFFF" font-weight="bold" letter-spacing="1.244">2445</text>
<text x="217.36" y="124.5" font-size="42.6" fill="#FFFFFF" letter-spacing="-2.270">26</text>
<text x="267.15" y="106" font-size="14.6" fill="#FFFFFF" font-weight="bold">5</text>
</svg>
</body></html>
